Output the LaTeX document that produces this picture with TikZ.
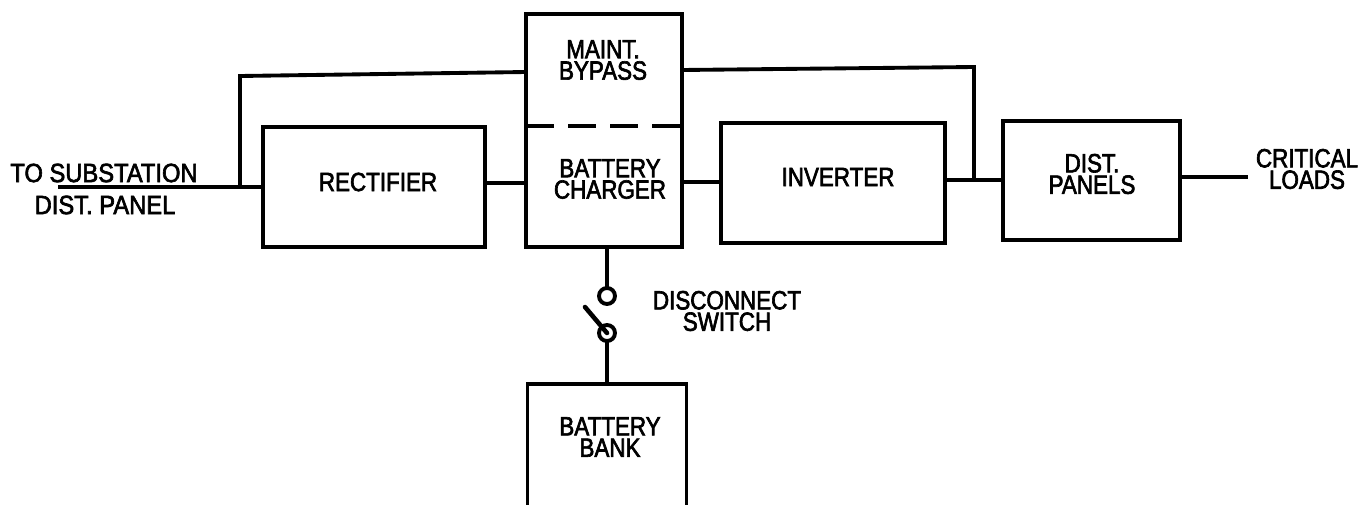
\documentclass[tikz,border=0pt]{standalone}
\usepackage{fontspec}
\setmainfont[FakeStretch=0.85, FakeBold=2.4]{Liberation Sans}
\newfontfamily\widefont[FakeStretch=0.9, FakeBold=2.4]{Liberation Sans}
\usetikzlibrary{positioning}

\begin{document}
\begin{tikzpicture}[line width=1.1pt,
    blockbox/.style={draw, outer sep=0pt, inner sep=0pt},
    blocktext/.style={inner sep=0pt, align=center, font=\fontsize{7.5}{6.1}\selectfont},
    widetext/.style={inner sep=0pt, align=center, font=\fontsize{7.5}{6.1}\widefont},
    contact/.style={draw, circle, minimum size=0.16cm, inner sep=0pt, outer sep=0pt}]

        \useasboundingbox (0,0) rectangle (13.59,-5.05);

        % blocks
        \node[blockbox, minimum width=2.22cm, minimum height=1.20cm] (rect) at (3.74,-1.87) {};
        \node[blockbox, minimum width=1.56cm, minimum height=2.33cm] (ups) at (6.04,-1.305) {};
        \node[blockbox, minimum width=2.24cm, minimum height=1.20cm] (inv) at (8.33,-1.83) {};
        \node[blockbox, minimum width=1.77cm, minimum height=1.19cm] (dist) at (10.915,-1.805) {};
        \node[blockbox, minimum width=1.59cm, minimum height=1.41cm] (bank) at (6.07,-4.545) {};

        % block labels
        \node[blocktext] (recttext) at (3.78,-1.82) {RECTIFIER};
        \node[blocktext] (maint) at (6.03,-0.60) {MAINT.\\BYPASS};
        \node[blocktext] (charger) at (6.10,-1.79) {BATTERY\\CHARGER};
        \node[blocktext] (invtext) at (8.38,-1.77) {INVERTER};
        \node[blocktext] (disttext) at (10.92,-1.74) {DIST.\\PANELS};
        \node[blocktext] (banktext) at (6.10,-4.37) {BATTERY\\BANK};

        % dashed split of the middle block
        \draw[dash pattern=on 0.28cm off 0.14cm] (ups.west |- 0,-1.26) -- (ups.east |- 0,-1.26);

        % switch
        \node[contact] (upper) at (6.07,-2.96) {};
        \node[contact] (lower) at (6.07,-3.33) {};
        \coordinate (blade) at (5.85,-3.07);

        % free ends and junctions
        \coordinate (feed) at (0.58,-1.87);
        \coordinate (tap) at (2.40,-1.87);
        \coordinate (out) at (12.48,-1.77);
        \coordinate (join) at (9.74,-1.80);

        \draw (feed) -- (rect.west);
        \draw (tap) -- (2.40,-0.76) -- (ups.west |- 0,-0.72);
        \draw (ups.east |- 0,-0.70) -- (9.74,-0.67) -- (join);
        \draw (rect.east |- 0,-1.83) -- (ups.west |- 0,-1.83);
        \draw (ups.east |- 0,-1.82) -- (inv.west |- 0,-1.82);
        \draw (inv.east |- join) -- (dist.west |- join);
        \draw (dist.east |- out) -- (out);
        \draw (upper |- ups.south) -- (upper);
        \draw (lower) -- (lower |- bank.north);
        \draw[line cap=round, line width=1.3pt] (blade) -- (lower.center);

        % labels
        \node[widetext] (sub) at (1.04,-1.73) {TO SUBSTATION};
        \node[widetext] (panel) at (1.05,-2.05) {DIST. PANEL};
        \node[blocktext] (loads) at (13.07,-1.69) {CRITICAL\\LOADS};
        \node[blocktext] (switch) at (7.27,-3.11) {DISCONNECT\\SWITCH};

    \end{tikzpicture}
\end{document}
